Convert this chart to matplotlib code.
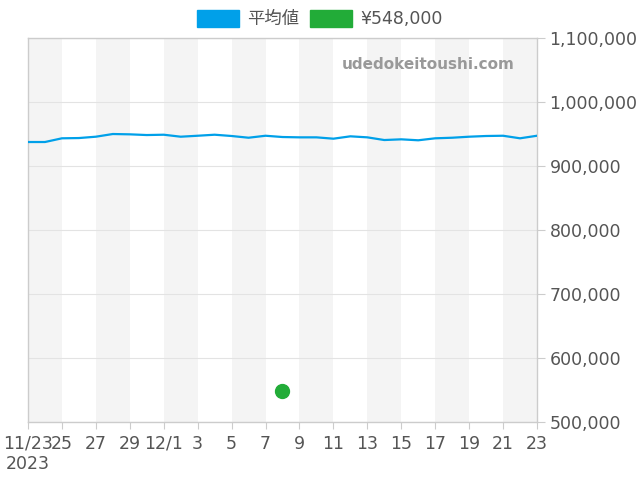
import numpy as np
import matplotlib.pyplot as plt
from matplotlib.patches import Patch

plt.rcParams['font.family'] = ['DejaVu Sans', 'Noto Sans CJK JP']

# 11/23 .. 12/23 (2023)
days = list(range(31))
avg = [937500, 937500, 943300, 943700, 945800, 950000, 949500, 948400,
       948900, 945800, 947300, 948900, 946900, 944200, 947300, 945300,
       944800, 944800, 942700, 946400, 944800, 940600, 941700, 940200,
       943300, 944200, 945800, 946900, 947300, 943300, 947300]
point_day = 15  # 12/8
point_val = 548000
xtick_pos = list(range(0, 31, 2))
xtick_lbl = ['11/23\n2023', '25', '27', '29', '12/1', '3', '5', '7', '9',
             '11', '13', '15', '17', '19', '21', '23']
yticks = [500000, 600000, 700000, 800000, 900000, 1000000, 1100000]

blue = '#00a0e9'
green = '#22ac38'
txt = '#555555'

fig = plt.figure(figsize=(6.4, 4.8), dpi=100)
ax = fig.add_axes([0.04375, 0.1208, 0.7953, 0.8])

for s in range(0, 30, 4):
    ax.axvspan(s, s + 2, color='#f4f4f4', lw=0, zorder=0)

ax.plot(days, avg, color=blue, lw=1.6, zorder=3)
ax.plot([point_day], [point_val], 'o', color=green, ms=10, zorder=4)

ax.set_xlim(0, 30)
ax.set_ylim(500000, 1100000)
ax.set_xticks(xtick_pos)
ax.set_xticklabels(xtick_lbl)
ax.set_yticks(yticks)
ax.set_yticklabels([f'{v:,}' for v in yticks])
ax.yaxis.tick_right()
ax.grid(axis='y', color='#e3e3e3', lw=0.8, zorder=1)
ax.tick_params(axis='y', length=6, color='#cccccc', labelsize=12.5,
               labelcolor=txt, pad=3)
ax.tick_params(axis='x', length=5, color='#cccccc', labelsize=12.5,
               labelcolor=txt, pad=4)
for sp in ax.spines.values():
    sp.set_color('#cccccc')
    sp.set_linewidth(1)

ax.text(0.957, 0.932, 'udedokeitoushi.com', transform=ax.transAxes,
        ha='right', va='center', fontsize=11, fontweight='bold',
        color='#999999', zorder=5)

handles = [Patch(color=blue, label='平均値'),
           Patch(color=green, label='¥548,000')]
leg = fig.legend(handles=handles, loc='upper center', ncol=2,
                 bbox_to_anchor=(0.5, 1.012), frameon=False, fontsize=12.5,
                 handlelength=2.4, handleheight=1.1, columnspacing=0.6,
                 handletextpad=0.5)
for t in leg.get_texts():
    t.set_color(txt)

fig.savefig('out.png', dpi=100)
